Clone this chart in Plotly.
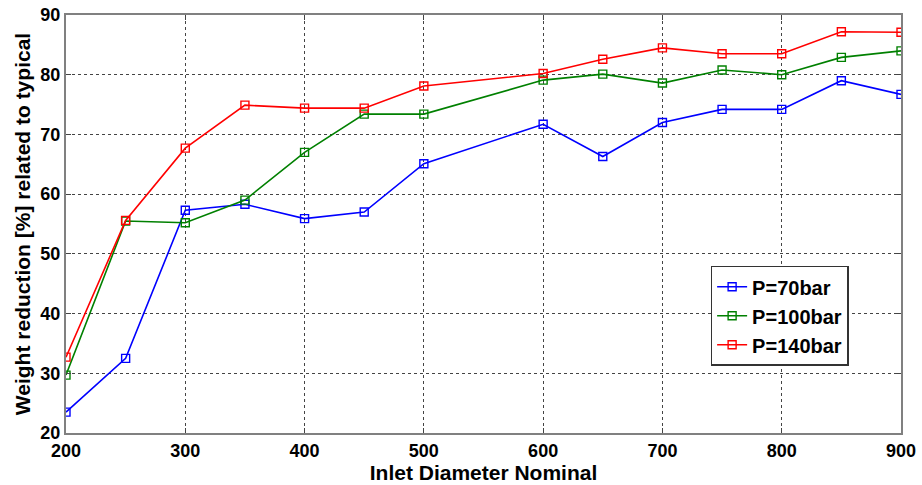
import plotly.graph_objects as go

# Inlet diameter nominal (DN)
diameters = [200, 250, 300, 350, 400, 450, 500, 600, 650, 700, 750, 800, 850, 900]

# Weight reduction [%] relative to the typical design, per pressure class
reduction_70bar = [23.5, 32.5, 57.3, 58.3, 55.9, 57.0, 65.1, 71.7, 66.3, 72.0, 74.2, 74.2, 79.0, 76.7]
reduction_100bar = [29.7, 55.5, 55.2, 59.0, 67.0, 73.4, 73.4, 79.1, 80.1, 78.6, 80.8, 80.0, 82.9, 84.0]
reduction_140bar = [32.7, 55.6, 67.7, 74.9, 74.4, 74.4, 78.1, 80.2, 82.6, 84.5, 83.5, 83.5, 87.2, 87.1]

series = [
    ("P=70bar", reduction_70bar, "#0000ff"),
    ("P=100bar", reduction_100bar, "#008000"),
    ("P=140bar", reduction_140bar, "#ff0000"),
]

x_ticks = [200, 300, 400, 500, 600, 700, 800, 900]
y_ticks = [20, 30, 40, 50, 60, 70, 80, 90]

font_family = "Liberation Sans, Arial, sans-serif"

fig = go.Figure()
for name, values, color in series:
    fig.add_trace(go.Scatter(
        x=diameters, y=values, name=name, mode="lines+markers",
        line=dict(color=color, width=1.6),
        marker=dict(symbol="square-open", size=8, color=color, line=dict(width=1.4, color=color)),
    ))

axis_common = dict(
    showgrid=True, gridcolor="#444444", griddash="dot", gridwidth=1,
    showline=True, linecolor="#808080", linewidth=2, mirror="ticks",
    ticks="inside", ticklen=5, tickcolor="#444444",
    zeroline=False, automargin=False,
    tickfont=dict(family=font_family, size=18, color="black", weight="bold"),
)

fig.update_layout(
    width=922, height=485,
    margin=dict(l=66, r=21, t=15, b=52),
    paper_bgcolor="white", plot_bgcolor="white",
    font=dict(family=font_family, color="black"),
    xaxis=dict(range=[200, 900], tickvals=x_ticks, ticktext=[str(v) for v in x_ticks],
               title=dict(text="Inlet Diameter Nominal", standoff=0,
                          font=dict(family=font_family, size=21, weight="bold")),
               **axis_common),
    yaxis=dict(range=[20, 90], tickvals=y_ticks, ticktext=[str(v) for v in y_ticks],
               title=dict(text="Weight reduction [%] related to typical", standoff=4,
                          font=dict(family=font_family, size=21, weight="bold")),
               **axis_common),
    legend=dict(
        x=0.772, y=0.40, xanchor="left", yanchor="top",
        bgcolor="white", bordercolor="#333333", borderwidth=1.5,
        font=dict(family=font_family, size=20, color="black", weight="bold"),
        tracegroupgap=0, itemwidth=30,
    ),
    showlegend=True,
)

fig.write_html("out.html")
